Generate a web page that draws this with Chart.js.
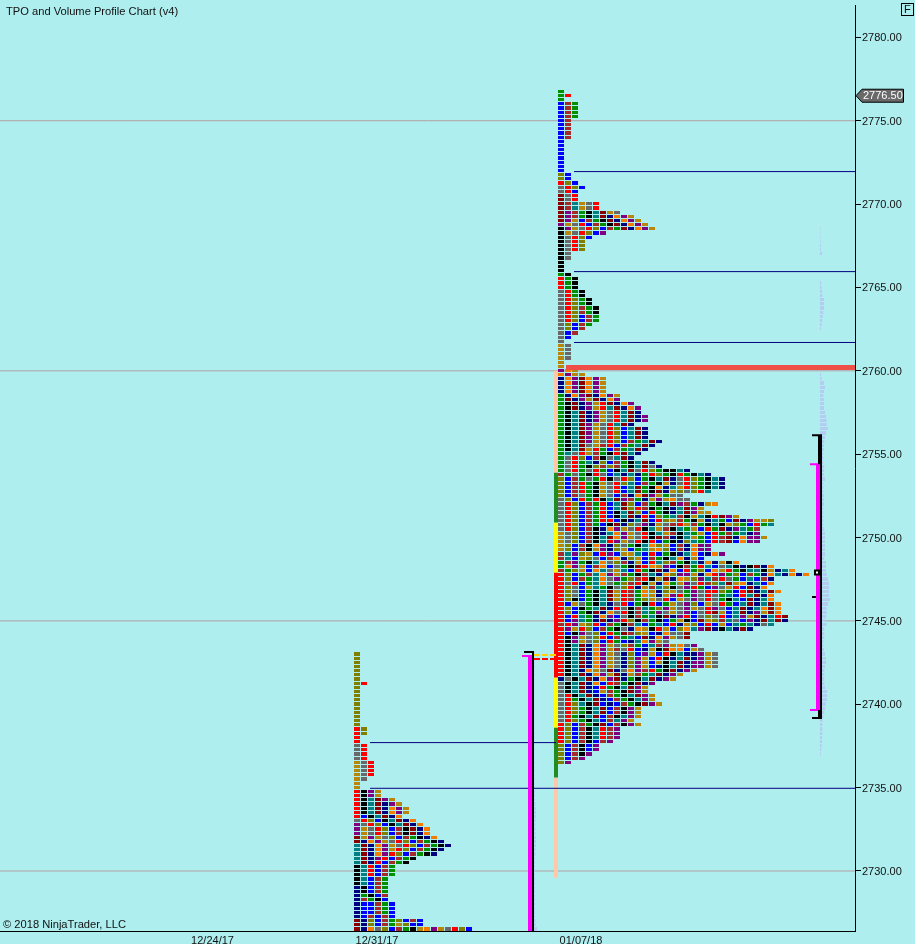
<!DOCTYPE html>
<html>
<head>
<meta charset="utf-8">
<title>TPO and Volume Profile Chart (v4)</title>
<script src="https://cdn.jsdelivr.net/npm/chart.js@4"></script>
<style>
  html, body { margin: 0; background: #afeeee; overflow: hidden; }
  canvas { display: block; }
</style>
</head>
<body>
<canvas id="chart" width="915" height="944"></canvas>
<script>
// letter -> TPO colour
const tpoColors = {
  g: '#009000', r: '#ff0000', b: '#0000ff', k: '#000000', n: '#000080', t: '#008080',
  o: '#f57c00', p: '#800080', m: '#8b0000', B: '#a52a2a', y: '#808000', d: '#b8860b', s: '#696969'
};

// x axis is counted in profile columns
const xMax = 855 / 7;
const dateLabels = ['12/24/17', '12/31/17', '01/07/18'];
const datePositions = [30.36, 53.86, 83];
const priceTicks = [2730, 2735, 2740, 2745, 2750, 2755, 2760, 2765, 2770, 2775, 2780];

// left profile, one string per price row going down from leftTop
const leftStart = 354 / 7;
const leftTop = 2743;
const leftRows = [
  'y','y','y','y','y','y','y','yr','y','y','y','y','y','y','y','y','y','y',
  'ry','ry','r','r','sr','sr','sr','sr','dsr','dsr','dsr','dsr','ds','d','d',
  'rkpd','rkpd','rktmpd','rktmnpd','rktmnopd','rktmnopd','rbktmno','srybktmno','psrybktmn o',
  'pdsrybBkmn o','pdsrybBkmn o','mdpdsybBgk no','mnopdsrybB gkn','tmnopdsryb Bgkn',
  'tmnopdrybB gkn','tmnoprybBg kn','tmnprbBgk','tmnrbBgk','ktrbBg','ktrbBg','ktrbBg',
  'ktbBg','ktbBg','nkbBg','nkbBg','ngkbB','nBgkb','nbbBgb','nbbBgb','nbbBgb','nbBbBb',
  'mnybBgybBb','mnybBgdybb','mnosybBgkd opdsryb'
];

// main profile, chunks of ten only to keep the counting readable
const mainStart = 558 / 7;
const mainTop = 2776.75;
const mainRows = [
  'g','gr','g','bBg','bBg','bBg','bBg','bB','bB','bB','bB','bB',
  'b','b','b','b','b','b','b','b','yb','yb','ryb','sryb','srb','msr','msr',
  'mBtdsr','mBtdsr','mpBgktmds','mpBgktmnop d','mpdbBgkmno pd','pdsrbBgkmn opd','kpdsrybBgm nopd',
  'kdsrybp','ksryb','ksry','ksry','ksry','ks','ks','k','k','k','gk','rgk','rgk','rgk',
  'srgk','srgk','srygk','srygk','sryBgk','sryBgk','srybBg','srybBg','sybBg','sybB','sbB','sb','s',
  'ds','ds','ds','ds','d','d','pod','opdd',
  'nopmopd','nopmopd','nopmopd','nopmopd','gnopmnopd','gmnpdmnop',
  'gkmnpdrmno p','gkmnpdrtmn op','gktmnpdsrt mn','gktmnpdsrt mnp','gktmnpdsrt mnp','gktmpdsrtm n',
  'gktmpdsryb tmn','gktmpdsryb tmn','gktmpdsryb tmn','gktmpdsryb Bgtmn','gktmsdBrbB gtmn',
  'gktmdrgbBg tmn','gtsrdBgkrm tn','gsrybBkstm n','gsrgtnybBg ktmn','gsrgkyByBg ktmsn',
  'gsrgsrgbkt msrygkktn','Bgsgkrsbtn tngrygkrgk tn','ybBgsgrksr ybgktmnsry gktn',
  'ybBrgkdsry tbBgkdnsry gktn','ybBrgkdsrb tmgkontdry gktn','ybBrgkdsrb tmgkmndysy rt',
  'ybBsgkdsbB nompdgss','sybrgrktmp Bgndpdoss','srybBgrbtm ybBgktmpBg ndo',
  'srybBgrbtm yrBkgkntmp d','srybBgrbkt mybrgkntmp dd','srybBgrbkt mnrbygtBkd tkrmpd',
  'srybBgrrbk ntmbrydBgk dntgbmnpdd y','srybBgbkmn yspndsBrdB gktkdygbrg t',
  'srybBknopd srktdBktgd brgmnptgB','dsybBkntop dsrktdBktg dbrgBgtnp',
  'dsybBktmop dsrkmBnktd gbrBmnoppd','dsybBktrpd srkrbgknyt gbrBmbopp',
  'dybBkopnys gktoydbBno pp','dybBkdpnyd bgtdoybBno pp','Btpydbrpbd dtbrbgknto bnop',
  'BtbdysbBon ydbBgktond b',
  'gBpgktosyB ndbrtyBgkt nondko','gopdbBobsg kmrodpbkBg rtbstknkmn o',
  'Bgydbotsdt brgkmnobrg ybodrgkttk dnto','rybgBtopdB gkBtnoyppd norpgybBgn otnono',
  'rybBgtospg yBrkdmnody ptBrsgbtbB n','rsrbgtosgy Brkdnogdps rBytmdontb o',
  'rysbdtgksy rndBtykspr gbpsdrbmno','rysbgktmdr Bgodnydsgp srrygbrmnt mo',
  'rysbgktmdr Bgodndprgp srsgtbrtmn o','rykbgktmdr Bgydsrbdsp srsgktbmnt o',
  'rbdsgktnsr bgkrbgdspy bdsrgbtmnt mo','rybkgtmnrs kBtgypdspd srpsbtmnto mo',
  'rybgkmnosr kBtgpsdspb srmdbtmnpd mo','rbrtgnopbs kBgtkmnprb sysrbtpdmn trm',
  'rbptgnmnpr ykBgkbgdkb mdyBtsbpnm tmn','BrpdyrbBgk Btbgtbrndy brbdbtgtns t',
  'rpdrybBgks nodkrdbyot pmnktnmn','rbkpsybrgm Bydbnossm','rkpdsyrbBg tbmnopdsm',
  'rkpdsybrgb ntopds','rktmnopdsy BgbtBpdosp','rktmnopdBs rbndkmoobd s',
  'rktmnopdsn ybpdbrktnn pds','rktmnopdsn ypdbrkntmn pds','rktmnopdsn ypdbdktmnp pds',
  'rktmnopdsn ypdbnktmnp pds','rktnodsmns opBrgkmnpd','rktmnopdmn dBgtmnpd','nsktmnopmn gktmnpd',
  'sktmnobrBg kmnp','sktmnbrgkt mpd','sktmnbdBgk mpd','srktmnbBgk tmpd','srgktmnbBg ktpd',
  'srytkmbnbB gkmpd','srygktmbBk pd','srygktmbBk pd','srgktmbBkt pd','srygktbBtp d',
  'rybBgkmbBk pd','rybBktrBp','rybBktrBp','rybBktrBp','rybBkbBp','ybBkbp','ybBkbp','ybBkp','ybBp','yp'
];

// volume profile widths per price row
const volStart = 117.14;
const volGroupTops = [2768.5, 2765.25, 2759.75];
const volGroups = [
  [0.5, 0.5, 0.5, 0.5, 1, 1, 2],
  [1, 1.7, 2, 2.3, 4, 4, 4, 3.3, 2.7, 2.3, 1.7, 1],
  [1, 1.7, 4, 5, 4, 3.3, 4, 4, 4, 5, 6, 6.7, 6.7, 8, 6, 5, 4.3, 4, 4, 3.3, 3.3, 3.3, 4.3, 4, 4, 5,
   3.3, 3.3, 3.3, 4, 4,
   4, 3.3, 3.3, 3.3, 3.3, 3.3, 4.3, 5, 5, 5, 5, 5, 5, 4.3, 6, 6, 6, 6.7, 8, 9, 9, 9, 9, 10,
   8, 6.7, 6.7, 6, 5, 6.7, 4.3, 4.3, 4.3, 3.3, 3.3, 4, 5, 6, 6, 5, 4.3, 4.3, 4.3, 4.3, 5,
   7, 7, 7, 5.7, 5, 4.3, 3.3, 2.7, 2.3, 2.3, 2.3, 2, 2, 1.7, 1.3, 0.7]
];
const leftVolStart = 76.29;
const leftVolTop = 2743;
const leftVol = [
  0.5, 0.5, 0.5, 0.5, 0.5, 0.5, 0.5, 0.5, 0.5, 0.5, 0.5, 0.5, 0.5, 0.5, 0.5, 0.5, 0.5, 0.5,
  0.5, 0.5, 0.5, 0.5, 0.5, 0.5, 0.5, 0.5, 0.5, 0.5, 0.5, 0.5, 0.5, 0.5, 0.5,
  1, 1, 1, 1.5, 2, 2, 2, 1.5, 1.5, 1.5, 1.5, 2, 2, 2, 1.5, 1.5, 1, 1, 1, 1, 1, 1, 1, 1, 1, 1, 1,
  1, 1, 1, 1, 1.5, 1.5, 3
];

// reference lines
const greyLevels = [2775, 2760, 2745, 2730];
const navyLevels = [2771.95, 2765.95, 2761.7, 2737.7, 2734.96];
const navyFrom = [82, 82, 82, 52.86, 52.86];
const navyTo = [xMax, xMax, xMax, 79.43, xMax];
const redLevel = 2760.2;
const redFrom = 80.86;

// value area column next to the main profile
const stripX = 79.43;
const stripStops = [2760, 2753.9, 2750.9, 2747.9, 2741.6, 2738.6, 2735.6, 2729.6];
const stripColors = ['#ffc8a8', '#228b22', '#ffff00', '#ff0000', '#ffff00', '#228b22', '#ffc8a8'];

const lastPrice = 2776.5;

function parseRows(rows, start, top, sink) {
  rows.forEach((row, i) => {
    const cells = row.replace(/ /g, '');
    for (let c = 0; c < cells.length; c++) {
      sink[cells[c]].push({ x: [start + c, start + c + 6 / 7], y: top - i * 0.25 });
    }
  });
}

const cells = {};
Object.keys(tpoColors).forEach(k => { cells[k] = []; });
parseRows(leftRows, leftStart, leftTop, cells);
parseRows(mainRows, mainStart, mainTop, cells);

const barStyle = {
  type: 'bar', indexAxis: 'y', grouped: false, maxBarThickness: 3,
  categoryPercentage: 1, barPercentage: 1, borderWidth: 0, inflateAmount: 0
};

const volData = [];
volGroups.forEach((g, j) => g.forEach((v, i) => {
  volData.push({ x: [volStart, volStart + v / 7], y: volGroupTops[j] - i * 0.25 });
}));
leftVol.forEach((v, i) => {
  volData.push({ x: [leftVolStart, leftVolStart + v / 7], y: leftVolTop - i * 0.25 });
});

function seg(x0, p0, x1, p1, color, width, order, dash) {
  return {
    type: 'scatter', showLine: true, pointRadius: 0, borderColor: color, borderWidth: width,
    borderDash: dash || [], borderCapStyle: 'butt', order,
    data: [{ x: x0, y: p0 }, { x: x1, y: p1 }]
  };
}

const datasets = [];
greyLevels.forEach(p => datasets.push(seg(0, p, xMax, p, '#b0a0a4', 1, 10)));
datasets.push(Object.assign({}, barStyle, { backgroundColor: '#b4ccf2', order: 9, data: volData }));
Object.keys(tpoColors).forEach(k => {
  datasets.push(Object.assign({}, barStyle, { backgroundColor: tpoColors[k], order: 8, data: cells[k] }));
});
navyLevels.forEach((p, i) => datasets.push(seg(navyFrom[i], p, navyTo[i], p, '#000080', 1, 3)));
datasets.push(seg(redFrom, redLevel, xMax, redLevel, '#ee5048', 5, 3));
stripColors.forEach((c, i) => datasets.push(seg(stripX, stripStops[i], stripX, stripStops[i + 1], c, 4, 4)));

// left bracket
datasets.push(seg(75.71, 2742.89, 75.71, 2726.4, '#ff00ff', 4, 2));
datasets.push(seg(74.57, 2742.89, 76, 2742.89, '#ff00ff', 2, 2));
datasets.push(seg(76.14, 2743.13, 76.14, 2726.4, '#000000', 2, 2));
datasets.push(seg(74.86, 2743.13, 76.29, 2743.13, '#000000', 2, 2));
datasets.push(seg(76.29, 2742.95, 79.43, 2742.95, '#ffd400', 2, 2, [6, 2]));
datasets.push(seg(76.29, 2742.71, 79.43, 2742.71, '#ff0000', 2, 2, [6, 2]));
// right bracket
datasets.push(seg(117.29, 2756.14, 117.29, 2739.17, '#000000', 2, 2));
datasets.push(seg(117.14, 2756.14, 117.14, 2754.4, '#000000', 4, 2));
datasets.push(seg(117.14, 2739.65, 117.14, 2739.17, '#000000', 4, 2));
datasets.push(seg(116, 2756.14, 117.43, 2756.14, '#000000', 2, 2));
datasets.push(seg(116, 2739.17, 117.43, 2739.17, '#000000', 2, 2));
datasets.push(seg(116.86, 2754.4, 116.86, 2739.65, '#ff00ff', 4, 2));
datasets.push(seg(115.71, 2754.4, 117.14, 2754.4, '#ff00ff', 2, 2));
datasets.push(seg(115.71, 2739.65, 117.14, 2739.65, '#ff00ff', 2, 2));
datasets.push(seg(116, 2746.44, 116.57, 2746.44, '#000000', 2, 2));
datasets.push({
  type: 'scatter', order: 1, pointStyle: 'rect', pointRadius: 2.83, borderWidth: 2,
  pointBackgroundColor: '#ffffff', pointBorderColor: '#000000',
  data: [{ x: 116.71, y: 2747.9 }]
});

// snap the TPO rows to whole pixels so every row keeps a 1px gap
const snapPlugin = {
  id: 'snapPlugin',
  afterDatasetsUpdate(chart) {
    chart.data.datasets.forEach((ds, i) => {
      if (ds.type !== 'bar') return;
      chart.getDatasetMeta(i).data.forEach(el => {
        const top = Math.floor(el.y - 1.35);
        const bottom = Math.floor(el.y + 2.82) - 1;
        el.y = (top + bottom) / 2;
        el.height = bottom - top;
      });
    });
  }
};

const textPlugin = {
  id: 'textPlugin',
  afterDraw(chart) {
    const ctx = chart.ctx;
    ctx.save();
    ctx.font = '11.15px "Liberation Sans"';
    ctx.fillStyle = '#111';
    ctx.textBaseline = 'middle';
    ctx.textAlign = 'left';
    ctx.fillText('TPO and Volume Profile Chart (v4)', 6, 12);
    ctx.fillText('© 2018 NinjaTrader, LLC', 3, 925);

    // F button
    ctx.strokeStyle = '#000';
    ctx.lineWidth = 1;
    ctx.strokeRect(901.5, 3.5, 12, 12);
    ctx.textAlign = 'center';
    ctx.fillText('F', 907.5, 10);

    // last price tag
    const y = chart.scales.y.getPixelForValue(lastPrice);
    ctx.font = '11px "Liberation Sans"';
    ctx.beginPath();
    ctx.moveTo(856, y);
    ctx.lineTo(862, y - 6.5);
    ctx.lineTo(903.5, y - 6.5);
    ctx.lineTo(903.5, y + 6.5);
    ctx.lineTo(862, y + 6.5);
    ctx.closePath();
    ctx.fillStyle = '#696969';
    ctx.fill();
    ctx.stroke();
    ctx.fillStyle = '#fff';
    ctx.textAlign = 'left';
    ctx.fillText(lastPrice.toFixed(2), 863, y + 0.5);
    ctx.restore();
  }
};

new Chart(document.getElementById('chart').getContext('2d'), {
  type: 'bar',
  data: { datasets },
  options: {
    responsive: false,
    animation: false,
    events: [],
    layout: { autoPadding: false, padding: { top: 5 } },
    plugins: { legend: { display: false }, tooltip: { enabled: false } },
    scales: {
      x: {
        type: 'linear', position: 'bottom', min: 0, max: xMax, offset: false,
        grid: { display: false, drawTicks: false, offset: false },
        border: { color: '#000', width: 1 },
        afterFit(s) { s.height = 13; },
        afterBuildTicks(s) { s.ticks = datePositions.map(v => ({ value: v })); },
        ticks: {
          autoSkip: false, maxRotation: 0, padding: 3, color: '#111',
          font: { family: '"Liberation Sans"', size: 11 },
          callback: (v, i) => dateLabels[i]
        }
      },
      y: {
        type: 'linear', position: 'right', min: 2726.4, max: 2781.918, offset: false,
        grid: { drawOnChartArea: false, tickLength: 6, tickColor: '#000', offset: false },
        border: { color: '#000', width: 1 },
        afterFit(s) { s.width = 60; },
        afterBuildTicks(s) { s.ticks = priceTicks.map(v => ({ value: v })); },
        ticks: {
          autoSkip: false, padding: 1, labelOffset: 1, color: '#111',
          font: { family: '"Liberation Sans"', size: 11, lineHeight: 0.8 },
          callback: v => v.toFixed(2)
        }
      }
    }
  },
  plugins: [snapPlugin, textPlugin]
});
</script>
</body>
</html>
